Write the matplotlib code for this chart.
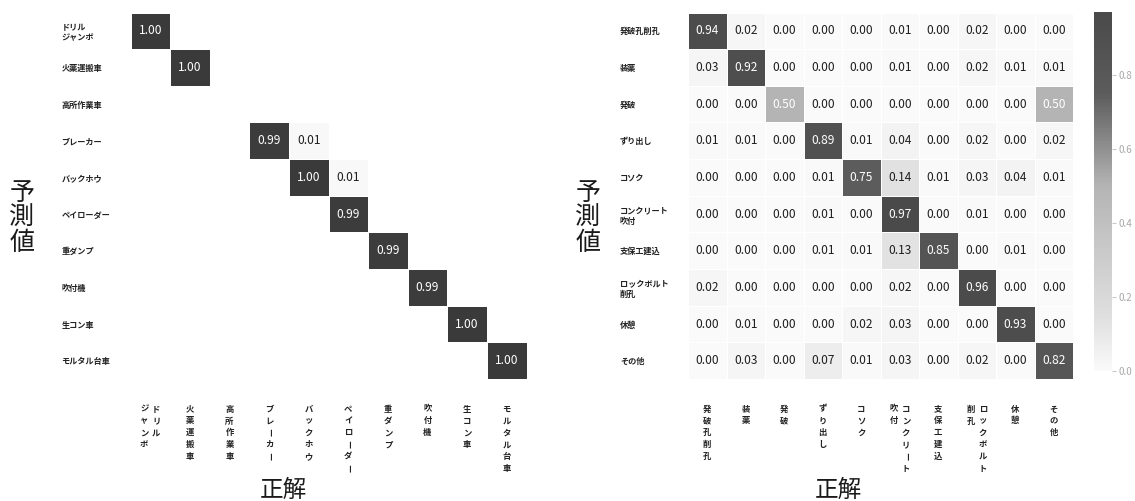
import numpy as np
import matplotlib
matplotlib.use("Agg")
import matplotlib.pyplot as plt
from matplotlib.colors import LinearSegmentedColormap

plt.rcParams['font.family'] = ['Noto Sans CJK JP', 'DejaVu Sans']

# --- data -----------------------------------------------------------------
machine_labels = ["ドリル\nジャンボ", "火薬運搬車", "高所作業車", "ブレーカー", "バックホウ",
                  "ペイローダー", "重ダンプ", "吹付機", "生コン車", "モルタル台車"]
# rows: predicted, columns: ground truth (0 = empty cell)
machine_matrix = [
    [1.00, 0, 0, 0, 0, 0, 0, 0, 0, 0],
    [0, 1.00, 0, 0, 0, 0, 0, 0, 0, 0],
    [0, 0, 0, 0, 0, 0, 0, 0, 0, 0],
    [0, 0, 0, 0.99, 0.01, 0, 0, 0, 0, 0],
    [0, 0, 0, 0, 1.00, 0.01, 0, 0, 0, 0],
    [0, 0, 0, 0, 0, 0.99, 0, 0, 0, 0],
    [0, 0, 0, 0, 0, 0, 0.99, 0, 0, 0],
    [0, 0, 0, 0, 0, 0, 0, 0.99, 0, 0],
    [0, 0, 0, 0, 0, 0, 0, 0, 1.00, 0],
    [0, 0, 0, 0, 0, 0, 0, 0, 0, 1.00],
]

work_labels = ["発破孔削孔", "装薬", "発破", "ずり出し", "コソク", "コンクリート\n吹付",
               "支保工建込", "ロックボルト\n削孔", "休憩", "その他"]
work_matrix = [
    [0.94, 0.02, 0.00, 0.00, 0.00, 0.01, 0.00, 0.02, 0.00, 0.00],
    [0.03, 0.92, 0.00, 0.00, 0.00, 0.01, 0.00, 0.02, 0.01, 0.01],
    [0.00, 0.00, 0.50, 0.00, 0.00, 0.00, 0.00, 0.00, 0.00, 0.50],
    [0.01, 0.01, 0.00, 0.89, 0.01, 0.04, 0.00, 0.02, 0.00, 0.02],
    [0.00, 0.00, 0.00, 0.01, 0.75, 0.14, 0.01, 0.03, 0.04, 0.01],
    [0.00, 0.00, 0.00, 0.01, 0.00, 0.97, 0.00, 0.01, 0.00, 0.00],
    [0.00, 0.00, 0.00, 0.01, 0.01, 0.13, 0.85, 0.00, 0.01, 0.00],
    [0.02, 0.00, 0.00, 0.00, 0.00, 0.02, 0.00, 0.96, 0.00, 0.00],
    [0.00, 0.01, 0.00, 0.00, 0.02, 0.03, 0.00, 0.00, 0.93, 0.00],
    [0.00, 0.03, 0.00, 0.07, 0.01, 0.03, 0.00, 0.02, 0.00, 0.82],
]

colorbar_ticks = [0.0, 0.2, 0.4, 0.6, 0.8]

# --- colour maps ------------------------------------------------------------
machine_cmap = LinearSegmentedColormap.from_list(
    "machine_grey", [(0.0, "#fafafa"), (1.0, "#3a3a3a")])
work_vmax = 0.97
work_cmap = LinearSegmentedColormap.from_list(
    "work_grey",
    [(0.0, "#fafafa"), (0.14 / work_vmax, "#e0e0e0"), (0.50 / work_vmax, "#b4b4b4"),
     (0.75 / work_vmax, "#5c5c5c"), (1.0, "#4a4a4a")])


def draw_matrix(ax, values, cmap, vmin, vmax, mask_zero):
    arr = np.array(values, dtype=float)
    n_rows, n_cols = arr.shape
    data = np.ma.masked_equal(arr, 0.0) if mask_zero else arr
    mesh = ax.pcolormesh(np.arange(n_cols + 1), np.arange(n_rows + 1), data,
                         cmap=cmap, vmin=vmin, vmax=vmax,
                         edgecolors="white", linewidth=0.6)
    ax.set_xlim(0, n_cols)
    ax.set_ylim(n_rows, 0)
    for i in range(n_rows):
        for j in range(n_cols):
            v = arr[i, j]
            if mask_zero and v == 0:
                continue
            ax.text(j + 0.5, i + 0.5, f"{v:.2f}", ha="center", va="center",
                    fontsize=8.6, color="white" if v >= 0.45 else "#1e1e1e")
    for s in ax.spines.values():
        s.set_visible(False)
    return mesh


def row_labels(ax, labels, pad_pt):
    ax.set_yticks(np.arange(len(labels)) + 0.5)
    ax.set_yticklabels(labels, ha="left", fontsize=5.9, linespacing=1.25,
                       color="#222222", fontweight="bold")
    ax.tick_params(axis="y", length=0, pad=pad_pt)


def column_labels(ax, labels, fontsize=6.0, pad_pt=18.5, pitch_pt=8.5, gap_pt=8.6):
    """Vertical (tategaki) column labels: characters stacked, first line on the right."""
    ax.set_xticks([])
    trans = ax.get_xaxis_transform()
    for j, lab in enumerate(labels):
        lines = lab.split("\n")
        ncol = len(lines)
        for k, line in enumerate(lines):
            dx = ((ncol - 1) / 2 - k) * gap_pt
            for i, ch in enumerate(line):
                ax.annotate(ch, xy=(j + 0.5, 0), xycoords=trans,
                            xytext=(dx, -pad_pt - i * pitch_pt),
                            textcoords="offset points", ha="center", va="top",
                            fontsize=fontsize, color="#222222", fontweight="bold",
                            rotation=-90 if ch == "ー" else 0,
                            annotation_clip=False)


W, H = 1135, 501
fig = plt.figure(figsize=(W / 100, H / 100), dpi=100)

ax_left = fig.add_axes([130.5 / W, (H - 379) / H, 396 / W, 366.5 / H])
ax_right = fig.add_axes([688 / W, (H - 379) / H, 385 / W, 366.5 / H])
cax = fig.add_axes([1094 / W, (H - 371) / H, 18 / W, 359 / H])

draw_matrix(ax_left, machine_matrix, machine_cmap, 0.0, 1.0, mask_zero=True)
row_labels(ax_left, machine_labels, pad_pt=49.8)
column_labels(ax_left, machine_labels)

mesh = draw_matrix(ax_right, work_matrix, work_cmap, 0.0, work_vmax, mask_zero=False)
row_labels(ax_right, work_labels, pad_pt=49.0)
column_labels(ax_right, work_labels)

for ax, lx, ly, tx in [(ax_left, -0.274, 0.44, 0.385), (ax_right, -0.26, 0.44, 0.39)]:
    ax.set_ylabel("予\n測\n値", rotation=0, fontsize=18, fontweight="normal",
                  linespacing=0.95, color="#1a1a1a", ha="center", va="center")
    ax.yaxis.set_label_coords(lx, ly)
    ax.set_xlabel("正解", fontsize=17, fontweight="normal", color="#1a1a1a",
                  ha="center", va="center")
    ax.xaxis.set_label_coords(tx, -0.303)

cbar = fig.colorbar(mesh, cax=cax, ticks=colorbar_ticks)
cbar.outline.set_visible(False)
cbar.ax.tick_params(length=3, width=0.6, color="#bbbbbb", labelcolor="#a8a8a8",
                    labelsize=7, pad=2)

fig.savefig("out.png", dpi=100, facecolor="white")
